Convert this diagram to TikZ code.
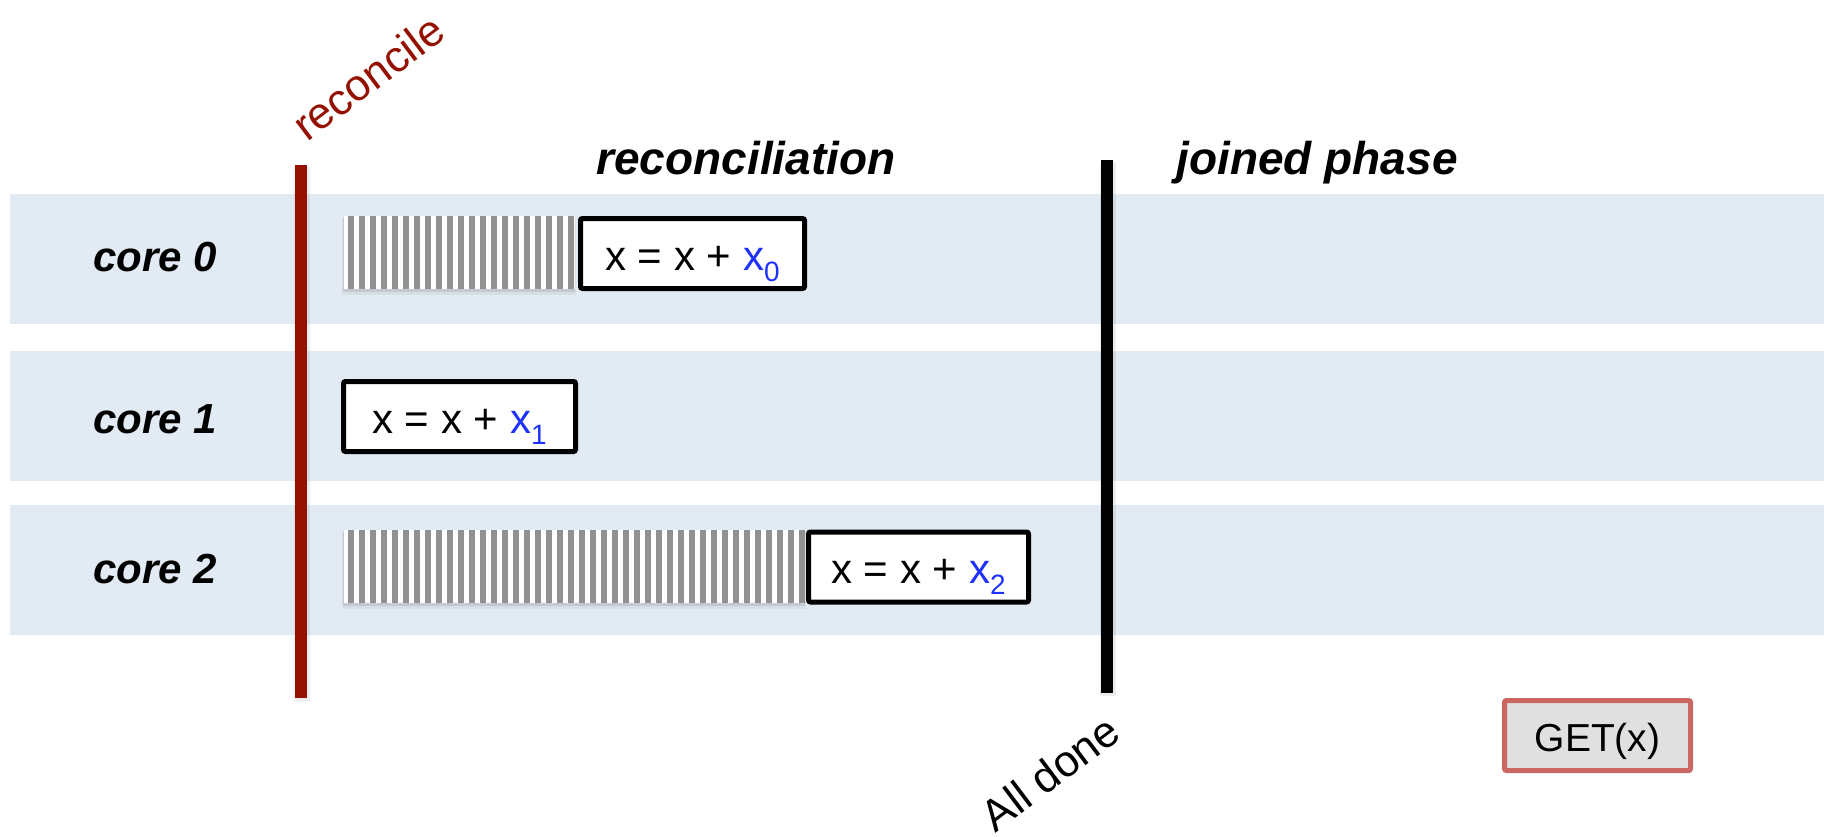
\documentclass[tikz,border=0pt]{standalone}
\usepackage{fontspec}
\setmainfont{Liberation Sans}
\usetikzlibrary{calc}

\definecolor{lanefill}{RGB}{226,234,243}
\definecolor{darkred}{RGB}{148,17,0}
\definecolor{stripegray}{RGB}{145,145,145}
\definecolor{varblue}{RGB}{30,50,255}
\definecolor{getred}{RGB}{204,102,96}
\definecolor{getfill}{RGB}{224,224,224}

\tikzset{
  lane/.style={fill=lanefill, draw=none, inner sep=0pt, minimum width=1814pt,
    minimum height=130pt, anchor=north west},
  corelabel/.style={font=\fontsize{42}{48}\selectfont\bfseries\itshape, anchor=base, inner sep=0pt},
  header/.style={font=\fontsize{46}{52}\selectfont\bfseries\itshape, anchor=base, inner sep=0pt},
  opbox/.style={draw=black, line width=5pt, fill=white, rounded corners=2pt,
    inner sep=0pt, minimum height=70pt},
  optext/.style={font=\fontsize{42}{48}\selectfont, anchor=base, inner sep=0pt},
  getbox/.style={draw=getred, fill=getfill, line width=5pt, rounded corners=2pt,
    inner sep=0pt, minimum width=186pt, minimum height=70pt},
  diag/.style={font=\fontsize{44}{50}\selectfont, rotate=37, inner sep=0pt},
  phaseline/.style={line width=12pt},
  lineshadow/.style={line width=16pt, black, opacity=0.07},
}

% waiting bar: left, right, top, bottom
\newcommand\hatchbar[4]{%
  \fill[black,opacity=0.05] (#1-2,#3+2) rectangle (#2+1,#4+6);
  \fill[black,opacity=0.09] (#1-1,#3+1) rectangle (#2,#4+3);
  \fill[white] (#1,#3) rectangle (#2,#4);
  \pgfmathtruncatemacro\nstripes{floor((#2-#1-10)/11)}
  \foreach \i in {0,...,\nstripes}
    \fill[stripegray] ({#1+4+11*\i},#3) rectangle ({#1+10+11*\i},#4);
}

% update text with a blue subscripted term
\newcommand\upd[1]{x = x + {\color{varblue}x\raisebox{-11pt}{\fontsize{28}{28}\selectfont #1}}}

\begin{document}
\begin{tikzpicture}[x=1pt, y=-1pt]
  \useasboundingbox (0,0) rectangle (1824,836);

  % core lanes
  \node[lane] (lane0) at (10,194) {};
  \node[lane] (lane1) at (10,351) {};
  \node[lane] (lane2) at (10,505) {};

  % lane labels
  \node[corelabel] (c0) at (155,271) {core 0};
  \node[corelabel] (c1) at (155,433) {core 1};
  \node[corelabel] (c2) at (155,583) {core 2};

  % phase headers
  \node[header] (hrec) at (746,174) {reconciliation};
  \node[header] (hjoin) at (1317,174) {joined phase};

  % phase boundaries
  \coordinate (rtop) at (301,165);
  \coordinate (rbot) at (301,698);
  \coordinate (btop) at (1107,160);
  \coordinate (bbot) at (1107,693);
  \draw[lineshadow] ($(rtop)+(1,2)$) -- ($(rbot)+(1,3)$);
  \draw[lineshadow] ($(btop)+(1,2)$) -- ($(bbot)+(1,3)$);
  \draw[phaseline, darkred] (rtop) -- (rbot);
  \draw[phaseline, black] (btop) -- (bbot);

  % waiting periods
  \hatchbar{344}{575}{216}{289}
  \hatchbar{344}{805}{530}{603}

  % update operations
  \node[opbox, minimum width=224pt] (op0) at (692.5,253.5) {};
  \node[opbox, minimum width=232pt] (op1) at (459.5,416.5) {};
  \node[opbox, minimum width=220pt] (op2) at (918.5,567) {};
  \node[optext] (t0) at ($(op0.center)+(0,16.5)$) {\upd{0}};
  \node[optext] (t1) at ($(op1.center)+(0,16.5)$) {\upd{1}};
  \node[optext] (t2) at ($(op2.center)+(0,16.5)$) {\upd{2}};

  % read after joining
  \node[getbox] (get) at (1597.5,735.5) {};
  \node[optext, font=\fontsize{39}{44}\selectfont] (gett) at ($(get.center)+(0,15.5)$) {GET(x)};

  % event labels
  \node[diag, text=darkred] (rec) at (368,77) {reconcile};
  \node[diag, text=black] (done) at (1050,773) {All done};
\end{tikzpicture}
\end{document}
